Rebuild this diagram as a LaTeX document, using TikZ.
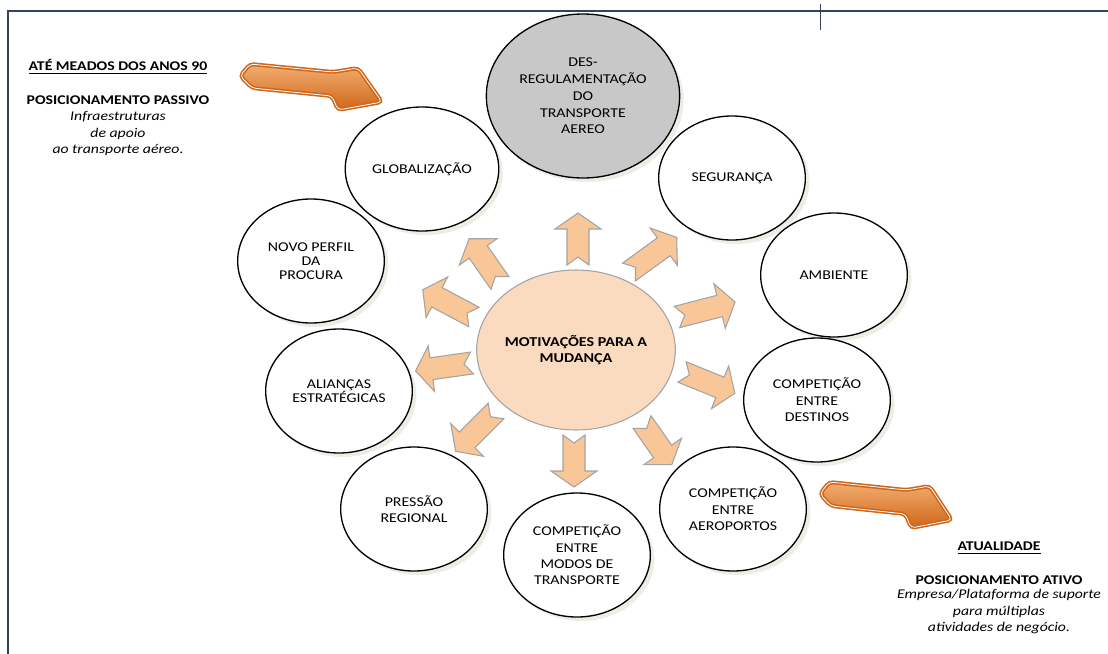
\documentclass[tikz,border=0pt]{standalone}
\usepackage{fontspec}
\setmainfont{Carlito}[FakeStretch=1.18]
\usetikzlibrary{shapes.geometric,positioning,shadows}

\definecolor{peach}{HTML}{FADBC0}
\definecolor{pushpeach}{HTML}{F9C697}
\definecolor{pushedge}{HTML}{A3A3A3}
\definecolor{deregray}{HTML}{C8C8C8}
\definecolor{burnt}{HTML}{D0661A}
\definecolor{burntlight}{HTML}{F2AE70}
\definecolor{framenavy}{HTML}{34435A}
\definecolor{shadowtint}{HTML}{ECEEE5}

\tikzset{
    motive/.style={ellipse, draw, line width=1pt, fill=white, minimum width=110pt, minimum height=93pt, align=center, font=\fontsize{10.1}{12.3}\selectfont, drop shadow={fill=shadowtint, opacity=1, shadow xshift=3pt, shadow yshift=-3pt}},
    hub/.style={ellipse, draw=pushedge, line width=0.8pt, fill=peach, minimum width=149pt, minimum height=120pt, inner xsep=-4pt, align=center, font=\fontsize{10.2}{12}\selectfont\bfseries},
    pushfill/.style={draw=pushedge, line width=0.8pt, fill=pushpeach, line join=miter},
    sidehead/.style={inner sep=1pt, font=\fontsize{10}{12}\selectfont\bfseries},
    sidenote/.style={inner sep=1pt, align=center, font=\fontsize{10}{12.4}\selectfont\itshape},
    pics/pushy/.style={code={
        \draw[pushfill] (0,-11) -- (#1-16,-11) -- (#1-16,-23) -- (#1,0) -- (#1-16,23) -- (#1-16,11) -- (0,11) -- (8,0) -- cycle;
    }},
    pics/bent/.style={code={
        \draw[rounded corners=3pt, draw=burnt, line width=1.2pt, double=white, double distance=0.6pt, top color=burntlight, bottom color=burnt] (12,0) -- (95,8) -- (120,4) -- (144,38) -- (100,46) -- (94,32) -- (14,24) -- (2,12) -- cycle;
    }}
}

\begin{document}
\begin{tikzpicture}[x=0.75pt, y=-0.75pt]
    \useasboundingbox (0,0) rectangle (1108,654);

    % Frame
    \draw[framenavy, line width=1.2pt] (8,654) -- (8,11) -- (1108,11);
    \draw[framenavy, line width=0.6pt] (820,4) -- (820,30);

    % Hub
    \node[hub] (motiv) at (576,350) {MOTIVAÇÕES PARA A\\MUDANÇA};

    % Motives
    \node[motive, fill=deregray, minimum width=145pt, minimum height=123pt, inner sep=1pt, font=\fontsize{10.1}{12.6}\selectfont] (dereg) at (583,96) {DES-\\REGULAMENTAÇÃO\\DO\\TRANSPORTE\\AEREO};
    \node[motive] (glob) at (422,169) {GLOBALIZAÇÃO};
    \node[motive] (segur) at (732,178) {SEGURANÇA};
    \node[motive, font=\fontsize{10.1}{10.3}\selectfont] (perfil) at (311,261) {NOVO PERFIL\\DA\\PROCURA};
    \node[motive] (ambi) at (834,275) {AMBIENTE};
    \node[motive, font=\fontsize{10.1}{10.3}\selectfont] (alianca) at (339,391) {ALIANÇAS\\ESTRATÉGICAS};
    \node[motive] (destino) at (817,400) {COMPETIÇÃO\\ENTRE\\DESTINOS};
    \node[motive] (regional) at (414,509) {PRESSÃO\\REGIONAL};
    \node[motive] (modos) at (577,555) {COMPETIÇÃO\\ENTRE\\MODOS DE\\TRANSPORTE};
    \node[motive] (aeroporto) at (733,509) {COMPETIÇÃO\\ENTRE\\AEROPORTOS};

    % Pushes out of the hub
    \pic[rotate=90] at (578,265) {pushy=52};
    \pic[rotate=36] at (629,272) {pushy=59};
    \pic[rotate=125] at (500,283) {pushy=54};
    \pic[rotate=152] at (474,317) {pushy=58};
    \pic[rotate=14.5] at (677,317) {pushy=60};
    \pic[rotate=188] at (472,363) {pushy=57};
    \pic[rotate=-22] at (682,372) {pushy=57};
    \pic[rotate=225] at (496,411) {pushy=57};
    \pic[rotate=270] at (574,435) {pushy=52};
    \pic[rotate=-55] at (642,422) {pushy=52};

    % Bent arrows
    \pic at (238,64) {bent};
    \pic[xscale=0.93] at (818,482) {bent};

    % Before
    \node[sidehead] (passivo) at (118,100) {POSICIONAMENTO PASSIVO};
    \node[sidehead, above=14pt of passivo] {\underline{ATÉ MEADOS DOS ANOS 90}};
    \node[sidenote, below=3pt of passivo] {Infraestruturas\\de apoio\\ao transporte aéreo.};

    % Today
    \node[sidehead] (ativo) at (999,580) {POSICIONAMENTO ATIVO};
    \node[sidehead, above=14pt of ativo] {\underline{ATUALIDADE}};
    \node[sidenote, below=1.5pt of ativo] {Empresa/Plataforma de suporte\\para múltiplas\\atividades de negócio.};
\end{tikzpicture}
\end{document}
